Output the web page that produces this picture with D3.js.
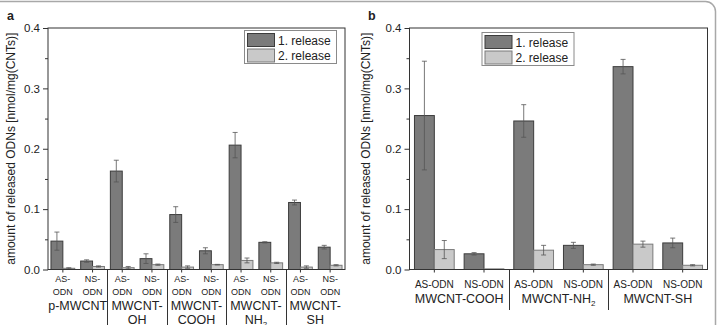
<!DOCTYPE html>
<html>
<head>
<meta charset="utf-8">
<script src="https://cdn.jsdelivr.net/npm/d3@7"></script>
<style>
  body { margin: 0; background: #fff; }
  svg { display: block; font-family: "Liberation Sans", Arial, sans-serif; }
  .axis path, .axis line { stroke: #333; }
  .axis text { fill: #222; }
</style>
</head>
<body>
<svg id="chart" width="717" height="325"></svg>
<script>
// panel a
const groupsA = ['p-MWCNT', 'MWCNT-OH', 'MWCNT-COOH', 'MWCNT-NH2', 'MWCNT-SH'];
const odns = ['AS-ODN', 'NS-ODN'];
const release1A = [0.047, 0.014, 0.163, 0.018, 0.091, 0.031, 0.206, 0.045, 0.111, 0.037];
const release1ErrA = [0.015, 0.002, 0.018, 0.008, 0.013, 0.005, 0.021, 0.001, 0.004, 0.003];
const release2A = [0.002, 0.005, 0.003, 0.008, 0.004, 0.008, 0.015, 0.011, 0.004, 0.007];
const release2ErrA = [0.001, 0.001, 0.002, 0.001, 0.002, 0.0005, 0.004, 0.001, 0.002, 0.001];

// panel b
const groupsB = ['MWCNT-COOH', 'MWCNT-NH2', 'MWCNT-SH'];
const release1B = [0.255, 0.026, 0.246, 0.040, 0.336, 0.044];
const release1ErrB = [0.090, 0.002, 0.027, 0.005, 0.012, 0.008];
const release2B = [0.033, 0.001, 0.032, 0.008, 0.042, 0.007];
const release2ErrB = [0.015, 0, 0.008, 0.001, 0.005, 0.001];

const seriesNames = ['1. release', '2. release'];
const majorTicks = [0, 0.1, 0.2, 0.3, 0.4];
const minorTicks = [0.05, 0.15, 0.25, 0.35];

const colors = {
  fill: ['#7b7b7b', '#c9c9c9'],
  stroke: ['#3c3c3c', '#7a7a7a'],
};

const svg = d3.select('#chart');

// outer figure frame
svg.append('rect')
  .attr('x', -20).attr('y', 1.5)
  .attr('width', 735.5).attr('height', 360)
  .attr('rx', 10).attr('ry', 10)
  .attr('fill', 'none')
  .attr('stroke', '#a8a8a8')
  .attr('stroke-width', 1.5);

const drawPanel = function(opts) {
  const g = svg.append('g');
  const top = 28, bottom = 269.5;

  const keys = [];
  opts.groups.forEach(function(gr) {
    odns.forEach(function(o) { keys.push(gr + '|' + o); });
  });

  const y = d3.scaleLinear().domain([0, 0.4]).range([bottom, top]);
  const x = d3.scaleBand().domain(keys)
    .range([opts.left, opts.right])
    .paddingInner(0.2)
    .paddingOuter(0.1);
  const bw = x.bandwidth() / 2;

  // bars
  const rows = keys.map(function(k, i) {
    return { key: k, vals: [opts.r1[i], opts.r2[i]], errs: [opts.e1[i], opts.e2[i]] };
  });

  [0, 1].forEach(function(s) {
    g.append('g').selectAll('rect')
      .data(rows)
      .enter().append('rect')
      .attr('x', function(d) { return x(d.key) + s * bw; })
      .attr('y', function(d) { return y(d.vals[s]); })
      .attr('width', bw)
      .attr('height', function(d) { return y(0) - y(d.vals[s]); })
      .attr('fill', colors.fill[s])
      .attr('stroke', colors.stroke[s])
      .attr('stroke-width', 1);

    const eb = g.append('g').selectAll('g')
      .data(rows.filter(function(d) { return d.errs[s] > 0; }))
      .enter().append('g')
      .attr('stroke', '#555')
      .attr('stroke-width', 0.8);
    const cx = function(d) { return x(d.key) + s * bw + bw / 2; };
    eb.append('line')
      .attr('x1', cx).attr('x2', cx)
      .attr('y1', function(d) { return y(d.vals[s] - d.errs[s]); })
      .attr('y2', function(d) { return y(d.vals[s] + d.errs[s]); });
    eb.append('line')
      .attr('x1', function(d) { return cx(d) - 2.5; })
      .attr('x2', function(d) { return cx(d) + 2.5; })
      .attr('y1', function(d) { return y(d.vals[s] + d.errs[s]); })
      .attr('y2', function(d) { return y(d.vals[s] + d.errs[s]); });
    eb.append('line')
      .attr('x1', function(d) { return cx(d) - 2.5; })
      .attr('x2', function(d) { return cx(d) + 2.5; })
      .attr('y1', function(d) { return y(d.vals[s] - d.errs[s]); })
      .attr('y2', function(d) { return y(d.vals[s] - d.errs[s]); });
  });

  // plot frame
  g.append('rect')
    .attr('x', opts.left).attr('y', top)
    .attr('width', opts.right - opts.left).attr('height', bottom - top)
    .attr('fill', 'none')
    .attr('stroke', '#333')
    .attr('stroke-width', 1);

  // y axis
  g.append('g')
    .attr('class', 'axis')
    .attr('transform', 'translate(' + opts.left + ',0)')
    .call(d3.axisLeft(y).tickValues(majorTicks).tickSize(5).tickSizeOuter(0)
      .tickPadding(3).tickFormat(d3.format('.1f')))
    .call(function(a) { a.select('.domain').remove(); })
    .selectAll('text')
    .style('font-size', '11.5px');

  g.append('g')
    .attr('class', 'axis')
    .attr('transform', 'translate(' + opts.left + ',0)')
    .call(d3.axisLeft(y).tickValues(minorTicks).tickSize(3).tickSizeOuter(0).tickFormat(''))
    .call(function(a) { a.select('.domain').remove(); });

  // x ticks at pair centres
  g.append('g')
    .attr('class', 'axis')
    .attr('transform', 'translate(0,' + bottom + ')')
    .call(d3.axisBottom(x).tickSize(3).tickSizeOuter(0).tickFormat(''))
    .call(function(a) { a.select('.domain').remove(); });

  // group separators
  const step = x.step();
  opts.groups.slice(1).forEach(function(gr) {
    const sx = Math.round(x(gr + '|AS-ODN') - (step - x.bandwidth()) / 2) + 0.5;
    g.append('line')
      .attr('x1', sx).attr('x2', sx)
      .attr('y1', bottom).attr('y2', opts.sepEnd)
      .attr('stroke', '#333')
      .attr('stroke-width', 1);
  });

  // ODN labels
  rows.forEach(function(d) {
    const odn = d.key.split('|')[1];
    const cx = x(d.key) + x.bandwidth() / 2;
    const t = g.append('text')
      .attr('x', cx)
      .attr('text-anchor', 'middle')
      .style('font-size', opts.odnSize)
      .attr('fill', '#222');
    if (opts.splitOdn) {
      t.append('tspan').attr('x', cx).attr('y', 282).text(odn.split('-')[0] + '-');
      t.append('tspan').attr('x', cx).attr('y', 295).text(odn.split('-')[1]);
    } else {
      t.attr('y', 288).text(odn);
    }
  });

  // group labels
  opts.groups.forEach(function(gr) {
    const cx = (x(gr + '|AS-ODN') + x(gr + '|NS-ODN') + x.bandwidth()) / 2;
    const t = g.append('text')
      .attr('x', cx)
      .attr('text-anchor', 'middle')
      .style('font-size', '12.5px')
      .attr('fill', '#222');
    const parts = gr.indexOf('p-') === 0 ? [gr] : ['MWCNT-', gr.split('-')[1]];
    const sub = function(el, str) {
      if (str.slice(-1) === '2' && str.indexOf('NH') >= 0) {
        el.append('tspan').text(str.slice(0, -1));
        el.append('tspan').attr('dy', 3).style('font-size', '8px').text('2');
      } else {
        el.append('tspan').text(str);
      }
    };
    if (opts.splitGroup && parts.length > 1) {
      const l1 = t.append('tspan').attr('x', cx).attr('y', opts.groupY);
      sub(l1, parts[0]);
      const l2 = g.append('text')
        .attr('x', cx).attr('y', opts.groupY + 13.5)
        .attr('text-anchor', 'middle')
        .style('font-size', '12.5px')
        .attr('fill', '#222');
      sub(l2, parts[1]);
    } else {
      t.attr('y', opts.groupY);
      sub(t, gr);
    }
  });

  // y label
  g.append('text')
    .attr('transform', 'translate(' + opts.ylabelX + ',' + ((top + bottom) / 2) + ')rotate(-90)')
    .attr('text-anchor', 'middle')
    .style('font-size', '12px')
    .attr('fill', '#222')
    .text('amount of released ODNs [nmol/mg(CNTs)]');

  // panel letter
  g.append('text')
    .attr('x', opts.letterX).attr('y', 20)
    .style('font-size', '12.5px')
    .style('font-weight', 'bold')
    .attr('fill', '#222')
    .text(opts.letter);

  // legend
  const lg = g.append('g').attr('transform', 'translate(' + opts.legendX + ',' + opts.legendY + ')');
  lg.append('rect')
    .attr('x', 0.5).attr('y', 0.5)
    .attr('width', 92).attr('height', 33)
    .attr('fill', '#fff')
    .attr('stroke', '#8a8a8a');
  seriesNames.forEach(function(name, s) {
    lg.append('rect')
      .attr('x', 3.5).attr('y', 3.5 + s * 15.5)
      .attr('width', 27).attr('height', 13)
      .attr('fill', colors.fill[s])
      .attr('stroke', colors.stroke[s]);
    lg.append('text')
      .attr('x', 34).attr('y', 14.5 + s * 15.5)
      .style('font-size', '12px')
      .attr('fill', '#222')
      .text(name);
  });
};

drawPanel({
  letter: 'a', letterX: 7, ylabelX: 14.5,
  left: 48, right: 345,
  groups: groupsA,
  r1: release1A, e1: release1ErrA, r2: release2A, e2: release2ErrA,
  odnSize: '9px', splitOdn: true, splitGroup: true, groupY: 310, sepEnd: 326,
  legendX: 244, legendY: 30,
});

drawPanel({
  letter: 'b', letterX: 368, ylabelX: 369.5,
  left: 409.5, right: 707.5,
  groups: groupsB,
  r1: release1B, e1: release1ErrB, r2: release2B, e2: release2ErrB,
  odnSize: '10px', splitOdn: false, splitGroup: false, groupY: 303, sepEnd: 310,
  legendX: 481.5, legendY: 32,
});
</script>
</body>
</html>
